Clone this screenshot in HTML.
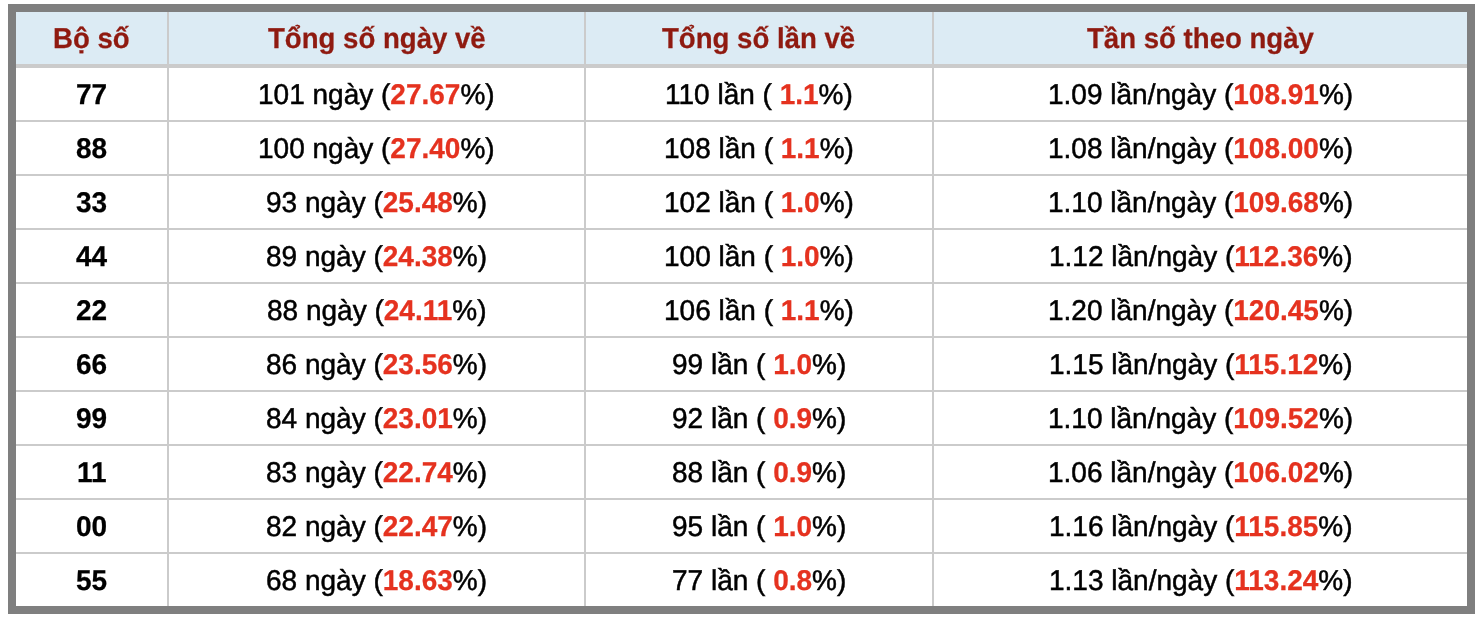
<!DOCTYPE html>
<html><head><meta charset="utf-8"><style>
html,body{margin:0;padding:0;background:#fff;width:1478px;height:620px;overflow:hidden;position:relative;font-family:"Liberation Sans",sans-serif;text-rendering:geometricPrecision;}
.b{position:absolute;}
.c{position:absolute;display:flex;align-items:center;justify-content:center;white-space:nowrap;color:#000;font-size:28.0px;}
.h{font-weight:bold;color:#8f1a10;font-size:27.6px;}
.r{color:#e5321f;font-weight:bold;}
.n{font-weight:bold;}
.c{-webkit-text-stroke-width:0.5px;}
.c.h,.c .n,.c .r{-webkit-text-stroke-width:0.25px;}
.t{display:inline-block;transform:scaleY(1.02);will-change:transform;}
.h .t{transform:scaleY(1.04);}
</style></head><body>
<div class="b" style="left:8px;top:4px;width:1467px;height:610px;background:#7f7f7f"></div>
<div class="b" style="left:16px;top:12px;width:1451px;height:594px;background:#fff"></div>
<div class="b" style="left:16px;top:12px;width:1451px;height:52px;background:#dcebf4"></div>
<div class="b" style="left:16px;top:64px;width:1451px;height:4px;background:#cbcbcb"></div>
<div class="b" style="left:167px;top:12px;width:2px;height:594px;background:#cbcbcb"></div>
<div class="b" style="left:584px;top:12px;width:2px;height:594px;background:#cbcbcb"></div>
<div class="b" style="left:932px;top:12px;width:2px;height:594px;background:#cbcbcb"></div>
<div class="b" style="left:16px;top:120px;width:1451px;height:2px;background:#cbcbcb"></div>
<div class="b" style="left:16px;top:174px;width:1451px;height:2px;background:#cbcbcb"></div>
<div class="b" style="left:16px;top:228px;width:1451px;height:2px;background:#cbcbcb"></div>
<div class="b" style="left:16px;top:282px;width:1451px;height:2px;background:#cbcbcb"></div>
<div class="b" style="left:16px;top:336px;width:1451px;height:2px;background:#cbcbcb"></div>
<div class="b" style="left:16px;top:390px;width:1451px;height:2px;background:#cbcbcb"></div>
<div class="b" style="left:16px;top:444px;width:1451px;height:2px;background:#cbcbcb"></div>
<div class="b" style="left:16px;top:498px;width:1451px;height:2px;background:#cbcbcb"></div>
<div class="b" style="left:16px;top:552px;width:1451px;height:2px;background:#cbcbcb"></div>
<div class="c h" style="left:16px;top:12.7px;width:151px;height:52px"><span class="t">Bộ số</span></div>
<div class="c h" style="left:169px;top:12.7px;width:415px;height:52px"><span class="t">Tổng số ngày về</span></div>
<div class="c h" style="left:586px;top:12.7px;width:346px;height:52px"><span class="t">Tổng số lần về</span></div>
<div class="c h" style="left:934px;top:12.7px;width:533px;height:52px"><span class="t">Tần số theo ngày</span></div>
<div class="c" style="left:16px;top:68.5px;width:151px;height:52px"><span class="t"><span class="n">77</span></span></div>
<div class="c" style="left:169px;top:68.5px;width:415px;height:52px"><span class="t">101 ngày (<span class="r">27.67</span>%)</span></div>
<div class="c" style="left:586px;top:68.5px;width:346px;height:52px"><span class="t">110 lần (&nbsp;<span class="r">1.1</span>%)</span></div>
<div class="c" style="left:934px;top:68.5px;width:533px;height:52px"><span class="t">1.09 lần/ngày (<span class="r">108.91</span>%)</span></div>
<div class="c" style="left:16px;top:122.5px;width:151px;height:52px"><span class="t"><span class="n">88</span></span></div>
<div class="c" style="left:169px;top:122.5px;width:415px;height:52px"><span class="t">100 ngày (<span class="r">27.40</span>%)</span></div>
<div class="c" style="left:586px;top:122.5px;width:346px;height:52px"><span class="t">108 lần (&nbsp;<span class="r">1.1</span>%)</span></div>
<div class="c" style="left:934px;top:122.5px;width:533px;height:52px"><span class="t">1.08 lần/ngày (<span class="r">108.00</span>%)</span></div>
<div class="c" style="left:16px;top:176.5px;width:151px;height:52px"><span class="t"><span class="n">33</span></span></div>
<div class="c" style="left:169px;top:176.5px;width:415px;height:52px"><span class="t">93 ngày (<span class="r">25.48</span>%)</span></div>
<div class="c" style="left:586px;top:176.5px;width:346px;height:52px"><span class="t">102 lần (&nbsp;<span class="r">1.0</span>%)</span></div>
<div class="c" style="left:934px;top:176.5px;width:533px;height:52px"><span class="t">1.10 lần/ngày (<span class="r">109.68</span>%)</span></div>
<div class="c" style="left:16px;top:230.5px;width:151px;height:52px"><span class="t"><span class="n">44</span></span></div>
<div class="c" style="left:169px;top:230.5px;width:415px;height:52px"><span class="t">89 ngày (<span class="r">24.38</span>%)</span></div>
<div class="c" style="left:586px;top:230.5px;width:346px;height:52px"><span class="t">100 lần (&nbsp;<span class="r">1.0</span>%)</span></div>
<div class="c" style="left:934px;top:230.5px;width:533px;height:52px"><span class="t">1.12 lần/ngày (<span class="r">112.36</span>%)</span></div>
<div class="c" style="left:16px;top:284.5px;width:151px;height:52px"><span class="t"><span class="n">22</span></span></div>
<div class="c" style="left:169px;top:284.5px;width:415px;height:52px"><span class="t">88 ngày (<span class="r">24.11</span>%)</span></div>
<div class="c" style="left:586px;top:284.5px;width:346px;height:52px"><span class="t">106 lần (&nbsp;<span class="r">1.1</span>%)</span></div>
<div class="c" style="left:934px;top:284.5px;width:533px;height:52px"><span class="t">1.20 lần/ngày (<span class="r">120.45</span>%)</span></div>
<div class="c" style="left:16px;top:338.5px;width:151px;height:52px"><span class="t"><span class="n">66</span></span></div>
<div class="c" style="left:169px;top:338.5px;width:415px;height:52px"><span class="t">86 ngày (<span class="r">23.56</span>%)</span></div>
<div class="c" style="left:586px;top:338.5px;width:346px;height:52px"><span class="t">99 lần (&nbsp;<span class="r">1.0</span>%)</span></div>
<div class="c" style="left:934px;top:338.5px;width:533px;height:52px"><span class="t">1.15 lần/ngày (<span class="r">115.12</span>%)</span></div>
<div class="c" style="left:16px;top:392.5px;width:151px;height:52px"><span class="t"><span class="n">99</span></span></div>
<div class="c" style="left:169px;top:392.5px;width:415px;height:52px"><span class="t">84 ngày (<span class="r">23.01</span>%)</span></div>
<div class="c" style="left:586px;top:392.5px;width:346px;height:52px"><span class="t">92 lần (&nbsp;<span class="r">0.9</span>%)</span></div>
<div class="c" style="left:934px;top:392.5px;width:533px;height:52px"><span class="t">1.10 lần/ngày (<span class="r">109.52</span>%)</span></div>
<div class="c" style="left:16px;top:446.5px;width:151px;height:52px"><span class="t"><span class="n">11</span></span></div>
<div class="c" style="left:169px;top:446.5px;width:415px;height:52px"><span class="t">83 ngày (<span class="r">22.74</span>%)</span></div>
<div class="c" style="left:586px;top:446.5px;width:346px;height:52px"><span class="t">88 lần (&nbsp;<span class="r">0.9</span>%)</span></div>
<div class="c" style="left:934px;top:446.5px;width:533px;height:52px"><span class="t">1.06 lần/ngày (<span class="r">106.02</span>%)</span></div>
<div class="c" style="left:16px;top:500.5px;width:151px;height:52px"><span class="t"><span class="n">00</span></span></div>
<div class="c" style="left:169px;top:500.5px;width:415px;height:52px"><span class="t">82 ngày (<span class="r">22.47</span>%)</span></div>
<div class="c" style="left:586px;top:500.5px;width:346px;height:52px"><span class="t">95 lần (&nbsp;<span class="r">1.0</span>%)</span></div>
<div class="c" style="left:934px;top:500.5px;width:533px;height:52px"><span class="t">1.16 lần/ngày (<span class="r">115.85</span>%)</span></div>
<div class="c" style="left:16px;top:554.5px;width:151px;height:52px"><span class="t"><span class="n">55</span></span></div>
<div class="c" style="left:169px;top:554.5px;width:415px;height:52px"><span class="t">68 ngày (<span class="r">18.63</span>%)</span></div>
<div class="c" style="left:586px;top:554.5px;width:346px;height:52px"><span class="t">77 lần (&nbsp;<span class="r">0.8</span>%)</span></div>
<div class="c" style="left:934px;top:554.5px;width:533px;height:52px"><span class="t">1.13 lần/ngày (<span class="r">113.24</span>%)</span></div>
</body></html>
